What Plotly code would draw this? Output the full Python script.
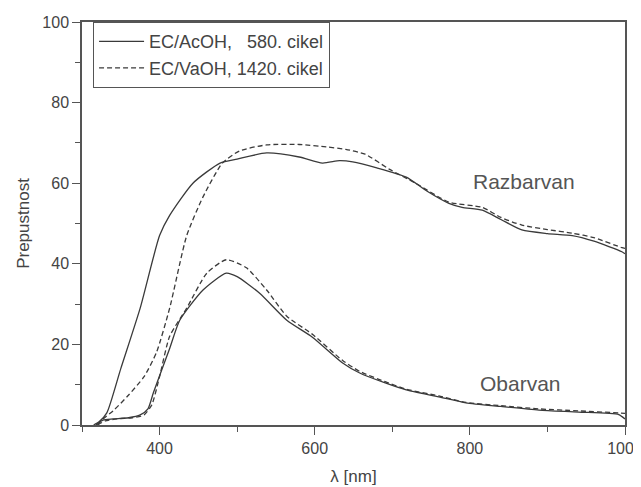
import plotly.graph_objects as go

# Razbarvan (bleached) curves
raz_ac_x = [315, 322, 332, 350, 375, 400, 413, 443, 478, 500, 538, 580, 610, 632, 649, 680, 718, 745, 773, 790, 816, 840, 867, 900, 932, 960, 996, 1000]
raz_ac_y = [0, 0.8, 3, 14, 29, 47, 52, 60, 65, 66, 67.5, 66.5, 65, 65.6, 65.3, 63.8, 61.5, 58, 55, 54, 53.3, 51, 48.4, 47.5, 47, 45.6, 43, 42.5]
raz_va_x = [320, 327, 340, 358, 380, 396, 413, 435, 456, 481, 503, 538, 580, 615, 640, 665, 696, 730, 773, 816, 840, 867, 900, 932, 960, 996, 1000]
raz_va_y = [0, 1.5, 3.5, 7, 12, 18, 29, 47, 56.6, 65, 68, 69.5, 69.6, 69, 68.4, 67.2, 63.5, 60, 55.3, 54, 51.5, 49.6, 48.5, 47.6, 46.5, 44, 43.8]

# Obarvan (coloured) curves
obr_ac_x = [318, 327, 340, 360, 375, 385, 392, 413, 426, 456, 486, 500, 529, 564, 597, 636, 658, 690, 718, 760, 795, 840, 889, 940, 992, 1000]
obr_ac_y = [0, 1.2, 1.5, 1.8, 2.5, 4, 8, 19, 26, 33.5, 37.7, 36.8, 32.7, 26, 21.8, 15.4, 12.9, 10.5, 8.7, 7, 5.5, 4.6, 3.7, 3.2, 2.6, 1.5]
obr_va_x = [320, 330, 345, 365, 380, 390, 400, 413, 435, 461, 486, 512, 538, 564, 597, 636, 658, 690, 718, 760, 795, 840, 889, 940, 992, 1000]
obr_va_y = [0, 1, 1.5, 1.8, 2.5, 5, 12, 22, 29, 37.7, 41, 39, 33.5, 27, 22.5, 16, 13.3, 10.8, 8.9, 7.2, 5.6, 4.8, 4, 3.5, 3, 2.9]

legend_labels = ["EC/AcOH,   580. cikel", "EC/VaOH, 1420. cikel"]

col = "#3a3a3a"
fig = go.Figure()
fig.add_trace(go.Scatter(x=raz_ac_x, y=raz_ac_y, mode="lines", name=legend_labels[0],
                         line=dict(color=col, width=1.3, shape="spline", smoothing=0.6)))
fig.add_trace(go.Scatter(x=raz_va_x, y=raz_va_y, mode="lines", name=legend_labels[1],
                         line=dict(color=col, width=1.3, dash="5px,3px", shape="spline", smoothing=0.6)))
fig.add_trace(go.Scatter(x=obr_ac_x, y=obr_ac_y, mode="lines", showlegend=False,
                         line=dict(color=col, width=1.3, shape="spline", smoothing=0.6)))
fig.add_trace(go.Scatter(x=obr_va_x, y=obr_va_y, mode="lines", showlegend=False,
                         line=dict(color=col, width=1.3, dash="5px,3px", shape="spline", smoothing=0.6)))

fig.add_annotation(x=870, y=60.3, text="Razbarvan", showarrow=False,
                   font=dict(size=21, color="#555555"))
fig.add_annotation(x=865, y=10.4, text="Obarvan", showarrow=False,
                   font=dict(size=21, color="#555555"))

axis_common = dict(showgrid=False, zeroline=False, showline=True, linecolor="#555555", linewidth=1.5,
                   mirror=True, ticks="outside", ticklen=8, tickwidth=1.3, tickcolor="#555555",
                   tickfont=dict(size=16, color="#444444"), automargin=False,
                   ticklabeloverflow="allow")
fig.update_xaxes(range=[300, 1000], tickvals=[400, 600, 800, 1000],
                 minor=dict(tickvals=[300, 500, 700, 900], ticklen=5, ticks="outside", tickcolor="#555555"),
                 title=dict(text="λ [nm]", font=dict(size=17, color="#444444"), standoff=14),
                 **axis_common)
fig.update_yaxes(range=[0, 100], tickvals=[0, 20, 40, 60, 80, 100],
                 minor=dict(tickvals=[10, 30, 50, 70, 90], ticklen=5, ticks="outside", tickcolor="#555555"),
                 title=dict(text="Prepustnost", font=dict(size=17, color="#444444"), standoff=8),
                 **axis_common)

# page body adds an 8px offset, so the figure is 8px smaller and margins compensate
fig.update_layout(
    width=633, height=479,
    margin=dict(l=74, r=16, t=14, b=62),
    paper_bgcolor="white", plot_bgcolor="white",
    font=dict(family="Liberation Sans, Arial, sans-serif", color="#444444"),
    legend=dict(x=0.02, y=1, xanchor="left", yanchor="top", bordercolor="#555555", borderwidth=1.2,
                bgcolor="white", font=dict(size=18, color="#444444"), tracegroupgap=0,
                itemwidth=45),
)

fig.write_html("out.html")
